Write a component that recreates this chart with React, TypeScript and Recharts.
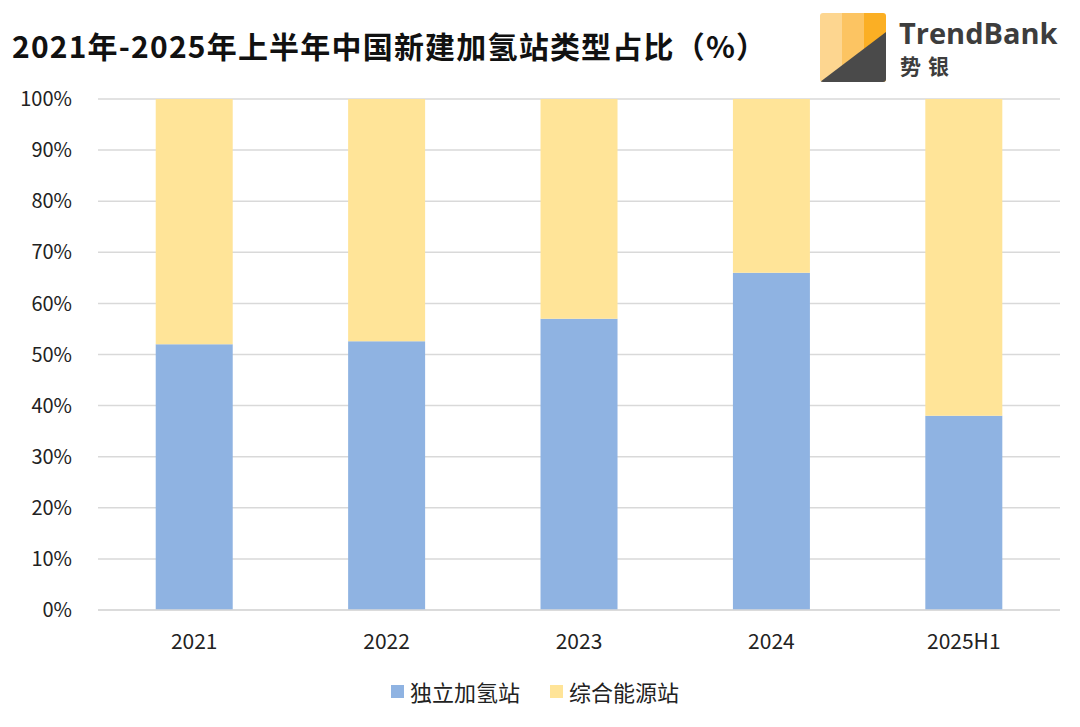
import React from "react";
import { BarChart, Bar, XAxis, YAxis, CartesianGrid, Legend } from "recharts";

// Share of newly built hydrogen refuelling stations by type (%)
const years = ["2021", "2022", "2023", "2024", "2025H1"];
const standaloneShare = [52, 52.6, 57, 66, 38];
const integratedShare = [48, 47.4, 43, 34, 62];
const yTicks = [0, 10, 20, 30, 40, 50, 60, 70, 80, 90, 100];

const seriesNames = ["独立加氢站", "综合能源站"];
const seriesColors = ["#8FB3E2", "#FFE498"];

const rows = years.map((year, i) => ({
  year,
  standalone: standaloneShare[i],
  integrated: integratedShare[i],
}));

const FONT = '"Noto Sans CJK SC", "Noto Sans", sans-serif';

const LegendRow = () => (
  <div
    style={{
      display: "flex",
      justifyContent: "center",
      alignItems: "center",
      fontFamily: FONT,
      fontSize: 22,
      color: "#222",
      paddingLeft: 10,
      height: 34,
    }}
  >
    {seriesNames.map((name, i) => (
      <div key={name} style={{ display: "flex", alignItems: "center", marginRight: i === 0 ? 30 : 0 }}>
        <span style={{ width: 13, height: 13, background: seriesColors[i], display: "inline-block", marginRight: 6 }} />
        <span>{name}</span>
      </div>
    ))}
  </div>
);

const Logo = () => (
  <svg width={260} height={90} style={{ position: "absolute", left: 810, top: 0 }}>
    <defs>
      <clipPath id="logoBox">
        <rect x={10} y={13} width={66} height={69} rx={3} />
      </clipPath>
    </defs>
    <g clipPath="url(#logoBox)">
      <rect x={10} y={13} width={22} height={69} fill="#FDD690" />
      <rect x={32} y={13} width={22} height={69} fill="#FCC462" />
      <rect x={54} y={13} width={22} height={69} fill="#FBAF24" />
      <polygon points="10,82 76,32 76,82" fill="#4A4A4A" />
    </g>
    <text x={89} y={44} fontFamily='"Open Sans", sans-serif' fontWeight={700} fontSize={29} fill="#3D3D3D">
      TrendBank
    </text>
    <text x={90} y={74} fontFamily={FONT} fontWeight={700} fontSize={21} fill="#3D3D3D" letterSpacing={7}>
      势银
    </text>
  </svg>
);

export default function App() {
  return (
    <div style={{ position: "absolute", left: 0, top: 0, width: 1080, height: 727, background: "#fff" }}>
      <div
        style={{
          position: "absolute",
          left: 12,
          top: 23,
          fontFamily: FONT,
          fontWeight: 700,
          fontSize: 30,
          letterSpacing: 1.2,
          color: "#111",
          whiteSpace: "nowrap",
        }}
      >
        2021年-2025年上半年中国新建加氢站类型占比（%）
      </div>
      <Logo />
      <BarChart
        width={1080}
        height={727}
        data={rows}
        margin={{ top: 99, right: 20, bottom: 6, left: 0 }}
        barCategoryGap="30%"
      >
        <CartesianGrid vertical={false} stroke="#D9D9D9" strokeWidth={1.5} />
        <XAxis
          dataKey="year"
          tickLine={false}
          tickSize={0}
          tickMargin={24}
          axisLine={{ stroke: "#D9D9D9", strokeWidth: 1.5 }}
          tick={{ fontFamily: FONT, fontSize: 21, fill: "#222" }}
          height={64}
        />
        <YAxis
          width={98}
          domain={[0, 100]}
          ticks={yTicks}
          interval={0}
          tickFormatter={(v: number) => `${v}%`}
          axisLine={false}
          tickLine={false}
          tickSize={0}
          tickMargin={26}
          tick={{ fontFamily: FONT, fontSize: 20, fill: "#222" }}
        />
        <Legend verticalAlign="bottom" height={47} content={() => <LegendRow />} />
        <Bar dataKey="standalone" name={seriesNames[0]} stackId="s" fill={seriesColors[0]} isAnimationActive={false} />
        <Bar dataKey="integrated" name={seriesNames[1]} stackId="s" fill={seriesColors[1]} isAnimationActive={false} />
      </BarChart>
    </div>
  );
}
